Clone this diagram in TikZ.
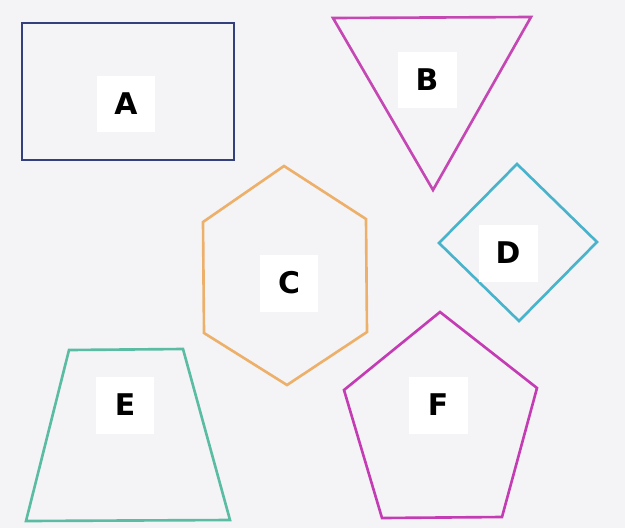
\documentclass[tikz,border=0pt]{standalone}
\usepackage{fontspec}
\setsansfont{DejaVu Sans}
\usepackage{xcolor}
\usepackage{tikz}
\usetikzlibrary{positioning}
\definecolor{paper}{HTML}{F4F4F6}
\definecolor{rectblue}{HTML}{34407E}
\definecolor{trimag}{HTML}{C447B4}
\definecolor{hexorange}{HTML}{EDB06A}
\definecolor{diacyan}{HTML}{4AB3CC}
\definecolor{trapgreen}{HTML}{5BBCA4}
\definecolor{pentmag}{HTML}{C43CB4}
\tikzset{
  outline/.style={line width=1.5pt, line join=miter},
  labelbox/.style={rectangle, fill=white, minimum width=1.18cm, minimum height=1.14cm, text centered, font=\sffamily\bfseries\fontsize{17}{17}\selectfont}
}

\begin{document}
\begin{tikzpicture}[x=0.02cm, y=-0.02cm]
% page
\fill[paper] (0,0) rectangle (625,528);
\useasboundingbox (0,0) rectangle (625,528);

% shapes
\draw[outline, rectblue] (22,23) rectangle (234,160);
\draw[outline, trimag] (333,18) -- (531,17) -- (433,190) -- cycle;
\draw[outline, hexorange] (284,166) -- (366,219) -- (367,332) -- (287,385) -- (204,333) -- (203,222) -- cycle;
\draw[outline, diacyan] (517,164) -- (597,242) -- (519,321) -- (439,243) -- cycle;
\draw[outline, trapgreen] (69,350) -- (183,349) -- (230,520) -- (26,521) -- cycle;
\draw[outline, pentmag] (440,312) -- (537,388) -- (502,517) -- (382,518) -- (344,390) -- cycle;

% labels
\node[labelbox] (labA) at (126,104) {A};
\node[labelbox] (labB) at (427,80) {B};
\node[labelbox] (labC) at (289,283) {C};
\node[labelbox] (labD) at (508,253) {D};
\node[labelbox] (labE) at (125,405) {E};
\node[labelbox] (labF) at (438,405) {F};
\end{tikzpicture}
\end{document}
